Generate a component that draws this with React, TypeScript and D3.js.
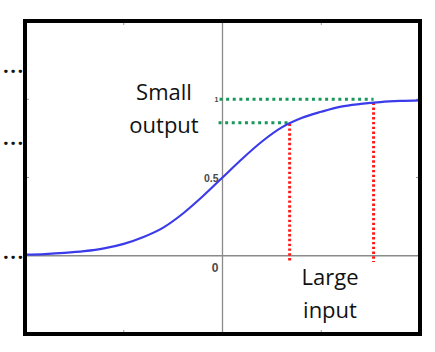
import React, { useRef, useEffect } from 'react';
import * as d3 from 'd3';

// Sigmoid curve (x in input units, y in output units)
const curveX = [-10, -9, -8, -7, -6, -5, -4, -3, -2, -1, 0, 1, 2, 3, 4, 5, 6, 7, 8, 9, 10];
const curveY = [0.007, 0.011, 0.018, 0.029, 0.047, 0.076, 0.12, 0.18, 0.27, 0.38, 0.5, 0.62, 0.73, 0.82, 0.88, 0.92, 0.953, 0.97, 0.982, 0.989, 0.993];

// Dotted guide lines: input where the red line drops, output level of the green line
const guideInputs = [3.4, 7.65];
const guideOutputs = [0.85, 1.0];
const guideStartX = [-0.2, -0.15];

// Axis tick positions and labels
const xTicks = [-5, 5];
const yTicks = [0.5, 1];
const yTickLabels = ['0.5', '1'];
const zeroLabel = '0';

// Left-edge ellipsis marks (output units)
const ellipsisY = [1.19, 0.73, 0];

const W = 435;
const H = 352;

export default function App() {
  const svgRef = useRef<SVGSVGElement>(null);

  useEffect(() => {
    const svg = d3.select(svgRef.current);
    svg.selectAll('*').remove();

    const left = 25, right = 420, top = 21, bottom = 334;

    const x = d3.scaleLinear().domain([-10, 10]).range([left, right]);
    const y = d3.scaleLinear().domain([-0.5, 1.5]).range([bottom, top]);

    const g = svg.append('g');

    // axes through the origin
    g.append('line')
      .attr('x1', x(0)).attr('x2', x(0))
      .attr('y1', top).attr('y2', bottom)
      .attr('stroke', '#8a8a8a').attr('stroke-width', 1.3);
    g.append('line')
      .attr('x1', left).attr('x2', right)
      .attr('y1', y(0)).attr('y2', y(0))
      .attr('stroke', '#8a8a8a').attr('stroke-width', 1.3);

    // small inward ticks on the frame
    xTicks.forEach(t => {
      g.append('line').attr('x1', x(t)).attr('x2', x(t)).attr('y1', top).attr('y2', top + 4)
        .attr('stroke', '#999').attr('stroke-width', 1);
      g.append('line').attr('x1', x(t)).attr('x2', x(t)).attr('y1', bottom).attr('y2', bottom - 4)
        .attr('stroke', '#999').attr('stroke-width', 1);
    });
    yTicks.forEach(t => {
      g.append('line').attr('x1', left).attr('x2', left + 4).attr('y1', y(t)).attr('y2', y(t))
        .attr('stroke', '#999').attr('stroke-width', 1);
      g.append('line').attr('x1', right).attr('x2', right - 4).attr('y1', y(t)).attr('y2', y(t))
        .attr('stroke', '#999').attr('stroke-width', 1);
    });

    // green dotted output guides
    guideOutputs.forEach((v, i) => {
      g.append('line')
        .attr('x1', x(guideStartX[i])).attr('x2', x(guideInputs[i]))
        .attr('y1', y(v)).attr('y2', y(v))
        .attr('stroke', '#16985a').attr('stroke-width', 3)
        .attr('stroke-dasharray', '3,3.6');
    });

    // red dotted input guides
    const curveAt = (v: number) => {
      const i = d3.bisectLeft(curveX, v);
      const x0 = curveX[i - 1], x1 = curveX[i];
      const t = (v - x0) / (x1 - x0);
      return curveY[i - 1] + t * (curveY[i] - curveY[i - 1]);
    };
    guideInputs.forEach(v => {
      g.append('line')
        .attr('x1', x(v)).attr('x2', x(v))
        .attr('y1', y(curveAt(v))).attr('y2', y(-0.04))
        .attr('stroke', '#ff1a1a').attr('stroke-width', 3)
        .attr('stroke-dasharray', '2.4,2.4');
    });

    // sigmoid curve
    const pts = curveX.map((v, i) => [v, curveY[i]] as [number, number]);
    const line = d3.line<[number, number]>()
      .x(d => x(d[0]))
      .y(d => y(d[1]))
      .curve(d3.curveMonotoneX);
    g.append('path')
      .datum(pts)
      .attr('d', line)
      .attr('fill', 'none')
      .attr('stroke', '#3b3bea')
      .attr('stroke-width', 2.2);

    // tick labels
    yTicks.forEach((t, i) => {
      g.append('text')
        .attr('x', x(0) - 4).attr('y', y(t) + (i === 1 ? 2.5 : 4))
        .attr('text-anchor', 'end')
        .style('font-family', 'Liberation Sans, Arial, sans-serif')
        .style('font-size', i === 1 ? '7px' : '10.5px')
        .style('font-weight', 'bold')
        .style('fill', i === 1 ? '#3a4a42' : '#4a4a4a')
        .text(yTickLabels[i]);
    });
    g.append('text')
      .attr('x', x(0) - 4).attr('y', y(-0.08) + 4)
      .attr('text-anchor', 'end')
      .style('font-family', 'Liberation Sans, Arial, sans-serif')
      .style('font-size', '12px')
      .style('font-weight', 'bold')
      .style('fill', '#4a4a4a')
      .text(zeroLabel);

    // frame
    g.append('rect')
      .attr('x', left).attr('y', top)
      .attr('width', right - left).attr('height', bottom - top)
      .attr('fill', 'none')
      .attr('stroke', '#000')
      .attr('stroke-width', 4);

    // annotations
    const note = (lines: string[], cx: number, baseY: number) => {
      lines.forEach((s, i) => {
        g.append('text')
          .attr('x', cx).attr('y', baseY + i * 33)
          .attr('text-anchor', 'middle')
          .style('font-family', 'Open Sans, sans-serif')
          .style('font-size', '22px')
          .style('fill', '#111')
          .text(s);
      });
    };
    note(['Small', 'output'], 164, 100);
    note(['Large', 'input'], 330, 285);

    // ellipses at the left edge
    ellipsisY.forEach(v => {
      g.append('text')
        .attr('x', 3).attr('y', y(v) + 3)
        .style('font-family', 'Open Sans, sans-serif')
        .style('font-size', '20px')
        .style('font-weight', 'bold')
        .style('letter-spacing', '1.5px')
        .style('fill', '#111')
        .text('...');
    });
  }, []);

  return (
    <div style={{ position: 'absolute', left: 0, top: 0 }}>
      <svg ref={svgRef} width={W} height={H} style={{ display: 'block', background: '#fff' }} />
    </div>
  );
}
